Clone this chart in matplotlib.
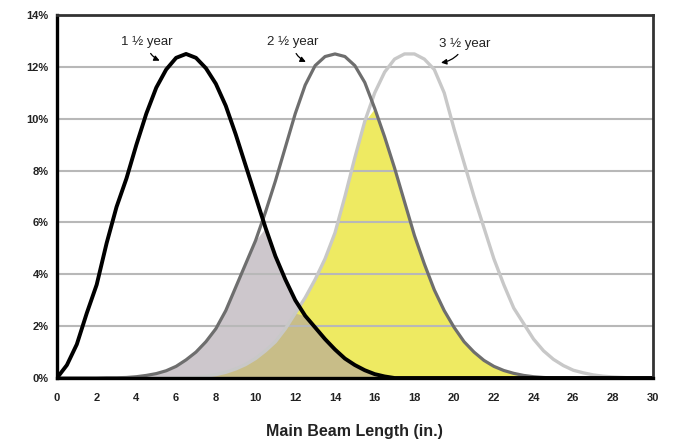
import numpy as np
import matplotlib
matplotlib.use("Agg")
import matplotlib.pyplot as plt

# beam length grid (in.), every half inch
length = np.arange(0, 30.5, 0.5)

# share of beams (%) for each age
year_1_5 = [0, 0.5, 1.3, 2.5, 3.6, 5.2, 6.6, 7.7, 9.0, 10.2,
            11.2, 11.9, 12.35, 12.5, 12.35, 11.95, 11.35, 10.5, 9.4, 8.2,
            7.0, 5.8, 4.7, 3.8, 3.0, 2.4, 1.95, 1.5, 1.1, 0.75,
            0.5, 0.3, 0.15, 0.06, 0, 0, 0, 0, 0, 0,
            0, 0, 0, 0, 0, 0, 0, 0, 0, 0,
            0, 0, 0, 0, 0, 0, 0, 0, 0, 0, 0]

year_2_5 = [0, 0, 0, 0, 0, 0.01, 0.01, 0.02, 0.05, 0.1,
            0.17, 0.28, 0.45, 0.7, 1.0, 1.4, 1.9, 2.6, 3.5, 4.4,
            5.3, 6.4, 7.6, 8.9, 10.2, 11.3, 12.05, 12.4, 12.5, 12.4,
            12.05, 11.4, 10.4, 9.3, 8.1, 6.8, 5.5, 4.4, 3.4, 2.6,
            1.95, 1.4, 1.0, 0.68, 0.45, 0.29, 0.18, 0.1, 0.05, 0.02,
            0, 0, 0, 0, 0, 0, 0, 0, 0, 0, 0]

year_3_5 = [0, 0, 0, 0, 0, 0, 0, 0, 0, 0,
            0, 0, 0, 0, 0.03, 0.07, 0.13, 0.22, 0.35, 0.52,
            0.75, 1.05, 1.4, 1.9, 2.5, 3.1, 3.8, 4.6, 5.6, 7.0,
            8.5, 9.9, 11.0, 11.8, 12.3, 12.5, 12.5, 12.3, 11.9, 11.0,
            9.6, 8.3, 7.0, 5.8, 4.6, 3.6, 2.7, 2.1, 1.5, 1.05,
            0.72, 0.48, 0.3, 0.2, 0.12, 0.07, 0.04, 0.02, 0, 0, 0]

labels = ["1 \u00bd year", "2 \u00bd year", "3 \u00bd year"]
x_ticks = list(range(0, 31, 2))
y_ticks = list(range(0, 15, 2))

b1 = np.array(year_1_5)
b2 = np.array(year_2_5)
b3 = np.array(year_3_5)

plt.rcParams["font.family"] = ["Liberation Sans", "DejaVu Sans"]

fig = plt.figure(figsize=(6.75, 4.43), dpi=100)
ax = fig.add_axes([0.0844, 0.1467, 0.8826, 0.8193])

# overlap shading
ax.fill_between(length, 0, np.minimum(b1, b2), color="#cdc7cc", lw=0, zorder=1)
ax.fill_between(length, 0, np.minimum(b2, b3), color="#eeea62", lw=0, zorder=1)
ax.fill_between(length, 0, np.minimum(np.minimum(b1, b2), b3),
                color="#c8bd88", lw=0, zorder=1)

# curves
line_kw = dict(solid_capstyle="round", solid_joinstyle="round")
ax.plot(length, b3, color="#c8c8c8", lw=2.4, zorder=3, **line_kw)
ax.plot(length, b2, color="#6e6e6e", lw=2.3, zorder=4, **line_kw)
ax.plot(length, b1, color="black", lw=2.8, zorder=5, **line_kw)

# labels with little curved arrows
txt = dict(ha="center", va="center", fontsize=9.5, color="#222222")
arr = dict(arrowstyle="-|>", color="black", lw=0.9, mutation_scale=8)
ax.annotate(labels[0], xy=(5.3, 12.2), xytext=(4.5, 12.95),
            arrowprops=dict(connectionstyle="arc3,rad=0.3", **arr), **txt)
ax.annotate(labels[1], xy=(12.66, 12.15), xytext=(11.85, 12.95),
            arrowprops=dict(connectionstyle="arc3,rad=0.3", **arr), **txt)
ax.annotate(labels[2], xy=(19.2, 12.15), xytext=(20.55, 12.9),
            arrowprops=dict(connectionstyle="arc3,rad=-0.3", **arr), **txt)

ax.set_xlim(0, 30)
ax.set_ylim(0, 14)
ax.set_xticks(x_ticks)
ax.set_yticks(y_ticks)
ax.set_yticklabels([f"{v}%" for v in y_ticks])
ax.tick_params(length=0, labelsize=8)
ax.tick_params(axis="x", pad=11)
ax.tick_params(axis="y", pad=6)
for lab in ax.get_xticklabels() + ax.get_yticklabels():
    lab.set_fontweight("bold")
    lab.set_color("#222222")

ax.set_axisbelow("line")
ax.grid(True, axis="y", color="#b8b8b8", lw=1.5)
ax.grid(False, axis="x")

for side in ["left", "bottom"]:
    ax.spines[side].set_linewidth(2.4)
    ax.spines[side].set_color("black")
for side in ["top", "right"]:
    ax.spines[side].set_linewidth(2.0)
    ax.spines[side].set_color("#333333")
for s in ax.spines.values():
    s.set_zorder(6)

ax.set_xlabel("Main Beam Length (in.)", fontsize=11.5, fontweight="bold",
              labelpad=15, color="#222222")

plt.savefig("out.png", dpi=100)
plt.close()
